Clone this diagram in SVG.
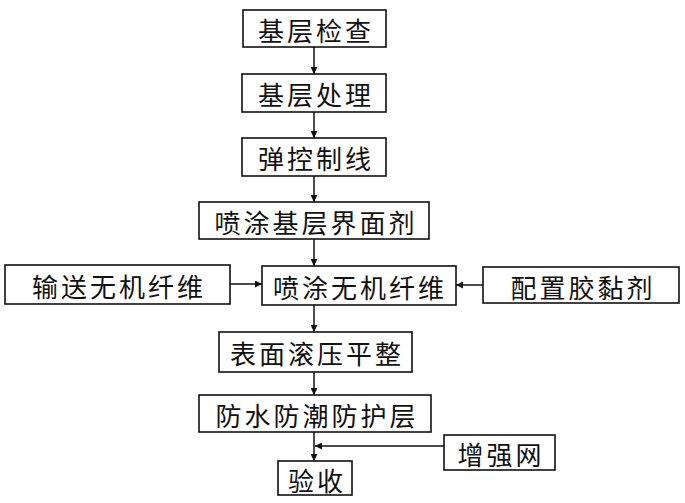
<svg xmlns="http://www.w3.org/2000/svg" width="685" height="503" viewBox="0 0 685 503">
<style>
.box{fill:#fff;stroke:#111;stroke-width:1.6}
.lbl{font-family:"Noto Sans CJK SC","Noto Sans",sans-serif;font-size:26px;letter-spacing:3px;fill:#111;text-anchor:middle;dominant-baseline:central}
.ln{fill:none;stroke:#111;stroke-width:1.5}
</style>
<defs>
<marker id="ah" viewBox="0 0 10 10" refX="10" refY="5" markerWidth="7" markerHeight="7" markerUnits="userSpaceOnUse" orient="auto">
<path d="M0,0 L10,5 L0,10 z" fill="#111"/>
</marker>
</defs>
<rect width="685" height="503" fill="#fff"/>
<g id="connectors">
<line class="ln" x1="314" y1="47" x2="314" y2="74" marker-end="url(#ah)"/>
<line class="ln" x1="314" y1="112" x2="314" y2="138" marker-end="url(#ah)"/>
<line class="ln" x1="314" y1="176" x2="314" y2="202" marker-end="url(#ah)"/>
<line class="ln" x1="314" y1="239" x2="314" y2="266" marker-end="url(#ah)"/>
<line class="ln" x1="230" y1="284" x2="262" y2="284" marker-end="url(#ah)"/>
<line class="ln" x1="483" y1="285" x2="456" y2="285" marker-end="url(#ah)"/>
<line class="ln" x1="314" y1="305" x2="314" y2="332" marker-end="url(#ah)"/>
<line class="ln" x1="314" y1="372" x2="314" y2="395" marker-end="url(#ah)"/>
<line class="ln" x1="314" y1="432" x2="314" y2="461" marker-end="url(#ah)"/>
<line class="ln" x1="444" y1="446" x2="315" y2="446" marker-end="url(#ah)"/>
</g>
<g id="n1"><rect class="box" x="243" y="10" width="143" height="37"/><text class="lbl" x="316" y="29">基层检查</text></g>
<g id="n2"><rect class="box" x="242" y="74" width="144" height="38"/><text class="lbl" x="316" y="93">基层处理</text></g>
<g id="n3"><rect class="box" x="242" y="138" width="144" height="38"/><text class="lbl" x="316" y="157">弹控制线</text></g>
<g id="n4"><rect class="box" x="199" y="202" width="230" height="37"/><text class="lbl" x="316" y="221">喷涂基层界面剂</text></g>
<g id="n5"><rect class="box" x="262" y="266" width="194" height="39"/><text class="lbl" x="360" y="286">喷涂无机纤维</text></g>
<g id="n6"><rect class="box" x="5" y="265" width="225" height="39"/><text class="lbl" x="119" y="285">输送无机纤维</text></g>
<g id="n7"><rect class="box" x="483" y="267" width="196" height="36"/><text class="lbl" x="583" y="286">配置胶黏剂</text></g>
<g id="n8"><rect class="box" x="219" y="332" width="193" height="40"/><text class="lbl" x="317" y="352">表面滚压平整</text></g>
<g id="n9"><rect class="box" x="199" y="395" width="232" height="37"/><text class="lbl" x="317" y="414">防水防潮防护层</text></g>
<g id="n10"><rect class="box" x="444" y="435" width="111" height="35"/><text class="lbl" x="501" y="453">增强网</text></g>
<g id="n11"><rect class="box" x="278" y="461" width="74" height="34"/><text class="lbl" x="317" y="479">验收</text></g>
</svg>
